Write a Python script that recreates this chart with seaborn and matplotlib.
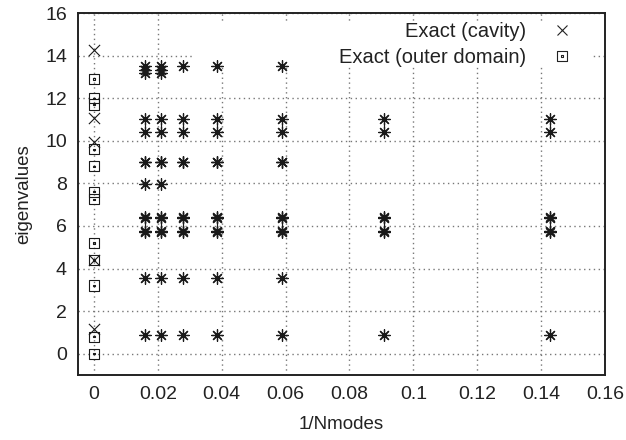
import numpy as np
import pandas as pd
import matplotlib
matplotlib.use("Agg")
import matplotlib.pyplot as plt
import seaborn as sns
from matplotlib.path import Path
from matplotlib.patches import Rectangle
from matplotlib.lines import Line2D

# ---- data ----
nmodes = [63, 48, 36, 26, 17, 11, 7]
eig_63 = [0.9, 3.55, 5.73, 5.77, 6.38, 6.42, 7.95, 8.98, 9.02, 10.4, 11.0, 13.2, 13.3, 13.5]
eig_48 = [0.9, 3.55, 5.73, 5.77, 6.38, 6.42, 7.95, 8.98, 9.02, 10.4, 11.0, 13.2, 13.3, 13.5]
eig_36 = [0.9, 3.55, 5.73, 5.77, 6.38, 6.42, 8.98, 9.02, 10.4, 11.0, 13.5]
eig_26 = [0.9, 3.55, 5.73, 5.77, 6.38, 6.42, 8.98, 9.02, 10.4, 11.0, 13.5]
eig_17 = [0.9, 3.55, 5.73, 5.77, 6.38, 6.42, 8.98, 9.02, 10.4, 11.0, 13.5]
eig_11 = [0.9, 5.73, 5.77, 6.38, 6.42, 10.4, 11.0]
eig_7 = [0.9, 5.73, 5.77, 6.38, 6.42, 10.4, 11.0]
computed = [eig_63, eig_48, eig_36, eig_26, eig_17, eig_11, eig_7]

exact_cavity = [1.15, 4.4, 9.95, 11.05, 14.25]
exact_outer = [0.0, 0.8, 3.2, 4.4, 5.2, 7.25, 7.6, 8.8, 9.6, 11.7, 12.0, 12.9]

xticks = [0, 0.02, 0.04, 0.06, 0.08, 0.1, 0.12, 0.14, 0.16]
xtick_labels = ["0", "0.02", "0.04", "0.06", "0.08", "0.1", "0.12", "0.14", "0.16"]
yticks = [0, 2, 4, 6, 8, 10, 12, 14, 16]

rows = []
for n, vals in zip(nmodes, computed):
    for v in vals:
        rows.append({"x": 1.0 / n, "y": v})
df_comp = pd.DataFrame(rows)
df_cav = pd.DataFrame({"x": [0.0] * len(exact_cavity), "y": exact_cavity})
df_out = pd.DataFrame({"x": [0.0] * len(exact_outer), "y": exact_outer})

# ---- style ----
sns.set_style("white")
plt.rcParams["font.family"] = ["Liberation Sans", "DejaVu Sans"]
plt.rcParams["font.size"] = 14

fig = plt.figure(figsize=(6.26, 4.40), dpi=100)
ax = fig.add_axes([78 / 626, 65 / 440, 527 / 626, 362 / 440])

ax.set_xlim(-0.005, 0.16)
ax.set_ylim(-1, 16)
ax.set_xticks(xticks)
ax.set_xticklabels(xtick_labels)
ax.set_yticks(yticks)
ax.tick_params(axis="both", length=0, labelsize=14, colors="#222222", pad=8)

ax.grid(True, linestyle=(0, (1, 2.5)), color="#777777", linewidth=1.0)
ax.set_axisbelow(True)
for sp in ax.spines.values():
    sp.set_color("#222222")
    sp.set_linewidth(1.4)

# opaque key area (hides grid behind the legend, like gnuplot "key opaque")
ax.add_patch(Rectangle((0.222, 0.856), 0.755, 0.119, transform=ax.transAxes,
                       facecolor="white", edgecolor="none", zorder=1.5))

# square-with-dot marker
verts = [(-1, -1), (1, -1), (1, 1), (-1, 1), (-1, -1),
         (-0.12, -0.12), (0.12, -0.12), (0.12, 0.12), (-0.12, 0.12), (-0.12, -0.12)]
codes = [Path.MOVETO, Path.LINETO, Path.LINETO, Path.LINETO, Path.CLOSEPOLY,
         Path.MOVETO, Path.LINETO, Path.LINETO, Path.LINETO, Path.CLOSEPOLY]
sq_dot = Path(verts, codes)

sns.scatterplot(data=df_comp, x="x", y="y", marker=(8, 2, 0), s=70,
                color="#1a1a1a", linewidth=0.9, ax=ax, zorder=3, legend=False)
sns.scatterplot(data=df_cav, x="x", y="y", marker="x", s=65,
                color="#1a1a1a", linewidth=0.8, ax=ax, zorder=3, legend=False)
ax.scatter(df_out["x"], df_out["y"], marker=sq_dot, s=55, facecolors="none",
           edgecolors="#1a1a1a", linewidths=0.8, zorder=3)

ax.set_xlabel("1/Nmodes", fontsize=13.5, color="#222222", labelpad=9)
ax.set_ylabel("eigenvalues", fontsize=13.5, color="#222222", labelpad=9)

handles = [
    Line2D([], [], linestyle="none", marker="x", markersize=7, color="#222222", markeredgewidth=0.8),
    Line2D([], [], linestyle="none", marker=sq_dot, markersize=7, markerfacecolor="none",
           markeredgecolor="#222222", markeredgewidth=0.8),
]
leg = ax.legend(handles, ["Exact (cavity)", "Exact (outer domain)"], loc="upper right",
                bbox_to_anchor=(0.965, 1.015), frameon=False, markerfirst=False,
                handlelength=1.0, handletextpad=1.3, labelspacing=0.35, fontsize=14.5,
                borderaxespad=0.3)
for t in leg.get_texts():
    t.set_color("#222222")

fig.savefig("out.png", dpi=100)
